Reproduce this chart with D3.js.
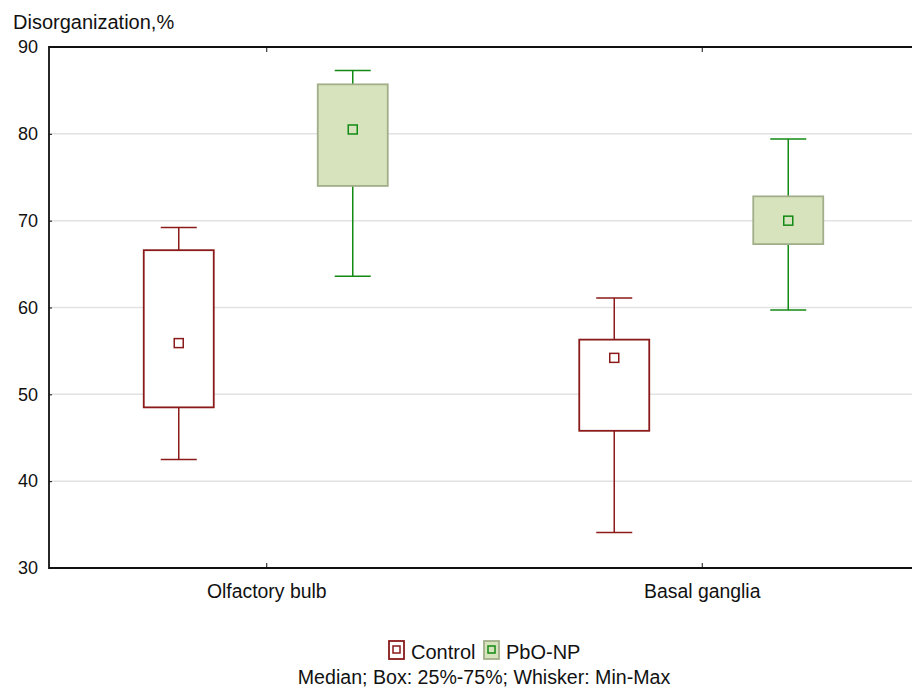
<!DOCTYPE html>
<html>
<head>
<meta charset="utf-8">
<script src="https://cdn.jsdelivr.net/npm/d3@7"></script>
<style>
  body { margin: 0; background: #fff; }
  text { font-family: Arial, "Liberation Sans", sans-serif; }
</style>
</head>
<body>
<div id="chart"></div>
<script>
// regions on the x axis
var regions = ["Olfactory bulb", "Basal ganglia"];
var groups = ["Control", "PbO-NP"];
// values per group, in region order
var controlMin = [42.5, 34.1];
var controlQ1 = [48.5, 45.8];
var controlMedian = [55.9, 54.2];
var controlQ3 = [66.6, 56.3];
var controlMax = [69.2, 61.1];
var pboMin = [63.6, 59.7];
var pboQ1 = [74.0, 67.3];
var pboMedian = [80.5, 70.0];
var pboQ3 = [85.7, 72.8];
var pboMax = [87.3, 79.4];
var yTicks = [30, 40, 50, 60, 70, 80, 90];

(function() {
    var width = 912, height = 688;
    var left = 49, top = 47, bottom = 568, right = 920;

    var svg = d3.select('#chart').append('svg')
        .attr('width', width)
        .attr('height', height);

    var x = d3.scaleBand().domain(regions).range([left, right]);
    var y = d3.scaleLinear().domain([30, 90]).range([bottom, top]);
    var offset = d3.scalePoint().domain(groups).range([-88, 86]);

    // colors for each group
    var style = {
        "Control": {line: "#8b1a1a", fill: "#ffffff", box: "#8b1a1a", mark: "#ffffff"},
        "PbO-NP": {line: "#138a13", fill: "#d7e3bd", box: "#a2ae8a", mark: "#d7e3bd"}
    };

    // gridlines
    svg.append('g').selectAll('line')
        .data(yTicks.filter(d => d > 30 && d < 90))
        .join('line')
        .attr('x1', left).attr('x2', width)
        .attr('y1', d => y(d)).attr('y2', d => y(d))
        .attr('stroke', '#e2e2e2').attr('stroke-width', 1.5);

    // build box data
    var boxes = [];
    regions.forEach((r, i) => {
        boxes.push({region: r, group: "Control", min: controlMin[i], q1: controlQ1[i], med: controlMedian[i], q3: controlQ3[i], max: controlMax[i]});
        boxes.push({region: r, group: "PbO-NP", min: pboMin[i], q1: pboQ1[i], med: pboMedian[i], q3: pboQ3[i], max: pboMax[i]});
    });

    var boxW = 70, capW = 36, markS = 9;
    var g = svg.append('g').selectAll('g').data(boxes).join('g')
        .attr('transform', d => `translate(${x(d.region) + x.bandwidth() / 2 + offset(d.group)},0)`);

    // whiskers
    g.append('line').attr('x1', 0).attr('x2', 0)
        .attr('y1', d => y(d.max)).attr('y2', d => y(d.q3))
        .attr('stroke', d => style[d.group].line).attr('stroke-width', 1.5);
    g.append('line').attr('x1', 0).attr('x2', 0)
        .attr('y1', d => y(d.q1)).attr('y2', d => y(d.min))
        .attr('stroke', d => style[d.group].line).attr('stroke-width', 1.5);
    g.append('line').attr('x1', -capW / 2).attr('x2', capW / 2)
        .attr('y1', d => y(d.max)).attr('y2', d => y(d.max))
        .attr('stroke', d => style[d.group].line).attr('stroke-width', 1.5);
    g.append('line').attr('x1', -capW / 2).attr('x2', capW / 2)
        .attr('y1', d => y(d.min)).attr('y2', d => y(d.min))
        .attr('stroke', d => style[d.group].line).attr('stroke-width', 1.5);

    // boxes
    g.append('rect')
        .attr('x', -boxW / 2).attr('width', boxW)
        .attr('y', d => y(d.q3)).attr('height', d => y(d.q1) - y(d.q3))
        .attr('fill', d => style[d.group].fill)
        .attr('stroke', d => style[d.group].box).attr('stroke-width', 1.8);

    // median markers
    g.append('rect')
        .attr('x', -markS / 2).attr('width', markS)
        .attr('y', d => y(d.med) - markS / 2).attr('height', markS)
        .attr('fill', d => style[d.group].mark)
        .attr('stroke', d => style[d.group].line).attr('stroke-width', 1.5);

    // frame
    svg.append('path')
        .attr('d', `M${right},${top}H${left}V${bottom}H${right}`)
        .attr('fill', 'none').attr('stroke', '#111').attr('stroke-width', 1.8);

    // y axis
    var yAxis = svg.append('g')
        .attr('transform', `translate(${left},0)`)
        .call(d3.axisRight(y).tickValues(yTicks).tickSize(3).tickPadding(-30));
    yAxis.select('.domain').remove();
    yAxis.selectAll('text').attr('text-anchor', 'end').attr('x', -11)
        .attr('font-size', 18).attr('fill', '#111');
    yAxis.selectAll('line').attr('stroke', '#111');

    // x axis, bottom with inner ticks
    var xAxis = svg.append('g')
        .attr('transform', `translate(0,${bottom})`)
        .call(d3.axisTop(x).tickSize(5));
    xAxis.select('.domain').remove();
    xAxis.selectAll('text').attr('y', 30).attr('font-size', 19.4).attr('fill', '#111');
    xAxis.selectAll('line').attr('stroke', '#111');

    // top ticks
    var xTop = svg.append('g')
        .attr('transform', `translate(0,${top})`)
        .call(d3.axisBottom(x).tickSize(5).tickFormat(''));
    xTop.select('.domain').remove();
    xTop.selectAll('line').attr('stroke', '#111');

    // y title
    svg.append('text').attr('x', 13).attr('y', 29)
        .attr('font-size', 20).attr('fill', '#111')
        .text('Disorganization,%');

    // legend
    var legend = svg.append('g').attr('transform', 'translate(389,641)');
    var items = legend.selectAll('g').data(groups).join('g')
        .attr('transform', (d, i) => `translate(${i * 95},0)`);
    items.append('rect').attr('width', 15).attr('height', 18)
        .attr('fill', d => style[d].fill)
        .attr('stroke', d => style[d].box).attr('stroke-width', 1.8);
    items.append('rect').attr('x', 4).attr('y', 5).attr('width', 7).attr('height', 7)
        .attr('fill', d => style[d].mark)
        .attr('stroke', d => style[d].line).attr('stroke-width', 1.5);
    items.append('text').attr('x', 22).attr('y', 18)
        .attr('font-size', 20).attr('fill', '#111')
        .text(d => d);

    svg.append('text').attr('x', 484).attr('y', 684)
        .attr('text-anchor', 'middle')
        .attr('font-size', 19.6).attr('fill', '#111')
        .text('Median; Box: 25%-75%; Whisker: Min-Max');
})();
</script>
</body>
</html>
